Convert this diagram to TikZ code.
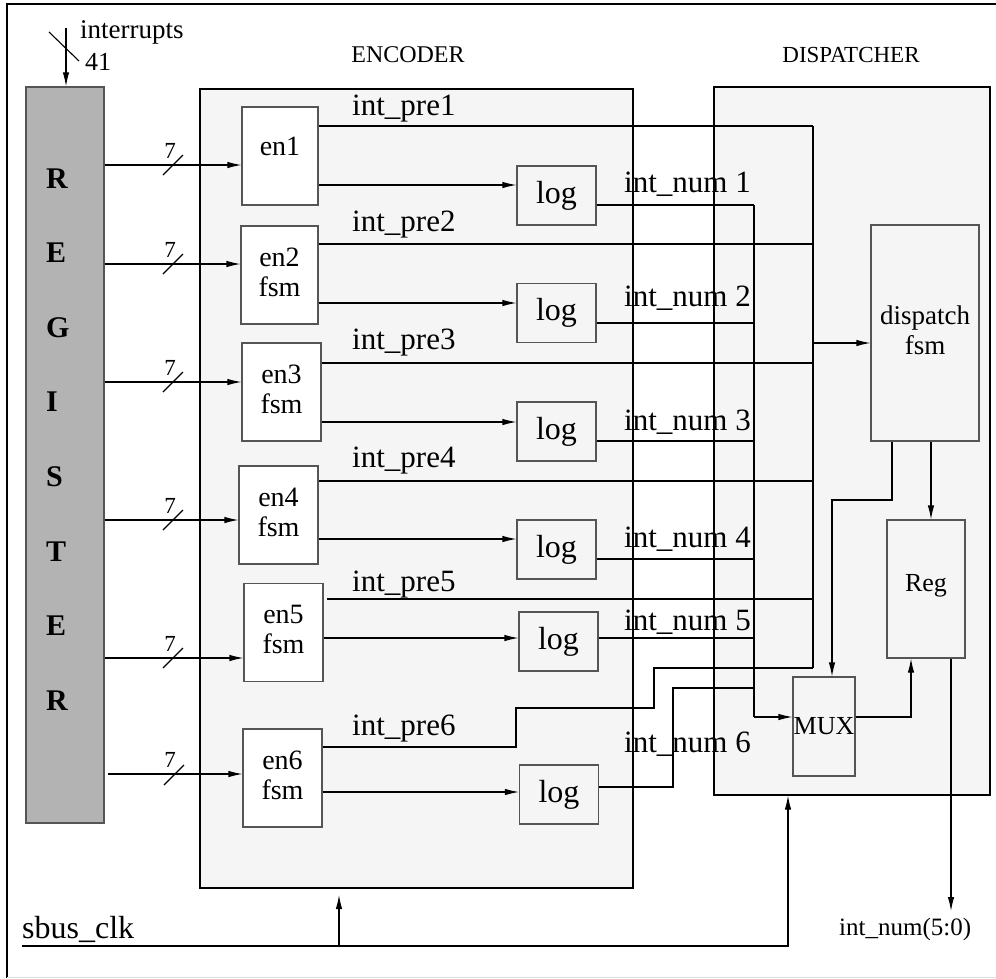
\documentclass[tikz,border=0pt]{standalone}
\usepackage{fontspec}
\setmainfont{Liberation Serif}
\usepackage{tikz}
\usetikzlibrary{arrows.meta,calc,positioning}
\definecolor{regshade}{RGB}{179,179,179}
\definecolor{unitfill}{RGB}{245,245,245}
\definecolor{boxedge}{RGB}{85,85,85}
\newcommand{\lifted}[2]{\raisebox{#1}{\begin{tabular}{@{}c@{}}#2\end{tabular}}}

\begin{document}
\begin{tikzpicture}[x=1pt, y=-1pt,
      sig/.style={line width=1.1pt},
      arr/.style={line width=1.1pt, -{Latex[length=14pt,width=6.5pt]}},
      unit/.style={draw=black, fill=unitfill, line width=1.1pt, inner sep=0pt},
      regbox/.style={draw=boxedge, fill=regshade, line width=1.3pt, minimum width=78pt, minimum height=736pt, inner sep=0pt},
      regletter/.style={anchor=base west, inner sep=0pt, font=\fontsize{30}{32}\selectfont\bfseries},
      enbox/.style={draw=boxedge, fill=white, line width=1.1pt, minimum height=98pt, inner sep=0pt, align=center, font=\fontsize{28}{30}\selectfont},
      logbox/.style={draw=boxedge, fill=unitfill, line width=1.1pt, minimum width=79pt, minimum height=59pt, inner sep=0pt, font=\fontsize{32}{34}\selectfont},
      dispbox/.style={draw=boxedge, fill=unitfill, line width=1.1pt, inner sep=0pt, align=center, font=\fontsize{27}{30}\selectfont},
      siglbl/.style={anchor=base west, inner sep=0pt, font=\fontsize{31}{33}\selectfont},
      buslbl/.style={anchor=base, inner sep=0pt, font=\fontsize{23}{25}\selectfont},
      title/.style={anchor=base, inner sep=0pt, font=\fontsize{24}{26}\selectfont}
    ]
      \useasboundingbox (0,0) rectangle (996,978);
      % outer frame
      \draw[line width=1.1pt] (7,978) -- (7,4) -- (996,4);
      \draw[black!12, line width=1pt] (7,977) -- (996,977);

      % containers
      \node[unit, minimum width=433pt, minimum height=799pt] (enc) at (416.5,488.5) {};
      \node[unit, minimum width=276pt, minimum height=708pt] (disp) at (852,441) {};
      \node[title] (enctitle) at (408,62) {ENCODER};
      \node[title, font=\fontsize{23}{25}\selectfont] (disptitle) at (851,62) {DISPATCHER};

      % register
      \node[regbox] (reg) at (65,455) {};
      \node[regletter] at (46,188) {R};
      \node[regletter] at (46,262) {E};
      \node[regletter] at (46,337) {G};
      \node[regletter] at (46,411) {I};
      \node[regletter] at (46,486) {S};
      \node[regletter] at (46,561) {T};
      \node[regletter] at (46,635) {E};
      \node[regletter] at (46,710) {R};

      % interrupts input
      \node[anchor=base west, inner sep=0pt, font=\fontsize{27}{29}\selectfont] (intlbl) at (80,38) {interrupts};
      \node[anchor=base west, inner sep=0pt, font=\fontsize{26}{28}\selectfont] (intwidth) at (85,70) {41};
      \coordinate (intin) at (66,28);
      \draw[arr] (intin) -- (reg.north -| intin);
      \draw[sig] (49,32) -- (79,61);

      % encoder blocks
      \node[enbox, minimum width=76pt] (en1) at (280,156) {\raisebox{19pt}{en1}};
      \node[enbox, minimum width=77pt] (en2) at (279.5,275) {\lifted{7pt}{en2\\fsm}};
      \node[enbox, minimum width=79pt] (en3) at (281.5,392) {\lifted{6pt}{en3\\fsm}};
      \node[enbox, minimum width=79pt] (en4) at (278.5,515) {\lifted{10pt}{en4\\fsm}};
      \node[enbox, minimum width=79pt] (en5) at (283.5,632.5) {\lifted{10pt}{en5\\fsm}};
      \node[enbox, minimum width=79pt] (en6) at (282.5,778) {\lifted{12pt}{en6\\fsm}};

      \node[logbox] (log1) at (556.5,195.5) {log};
      \node[logbox] (log2) at (556.5,313) {log};
      \node[logbox] (log3) at (556.5,431.5) {log};
      \node[logbox] (log4) at (556.5,549.5) {log};
      \node[logbox] (log5) at (558.5,641.5) {log};
      \node[logbox] (log6) at (559,794.5) {log};

      % register -> encoder buses
      \draw[arr] (reg.east |- 0,165) -- (en1.west |- 0,165);
      \draw[arr] (reg.east |- 0,264) -- (en2.west |- 0,264);
      \draw[arr] (reg.east |- 0,382) -- (en3.west |- 0,382);
      \draw[arr] (reg.east |- 0,520) -- (en4.west |- 0,520);
      \draw[arr] (reg.east |- 0,658) -- (en5.west |- 0,658);
      \draw[arr] (108,774) -- (en6.west |- 0,774);
      \draw[sig] (163,175) -- (183,155);   \node[buslbl] at (170,158) {7};
      \draw[sig] (163,274) -- (183,254);   \node[buslbl] at (170,257) {7};
      \draw[sig] (163,392) -- (183,372);   \node[buslbl] at (170,375) {7};
      \draw[sig] (163,530) -- (183,510);   \node[buslbl] at (170,513) {7};
      \draw[sig] (163,668) -- (183,648);   \node[buslbl] at (170,651) {7};
      \draw[sig] (164,785) -- (184,765);   \node[buslbl] at (170,767) {7};

      % encoder -> log
      \draw[arr] (en1.east |- 0,185) -- (log1.west |- 0,185);
      \draw[arr] (en2.east |- 0,303) -- (log2.west |- 0,303);
      \draw[arr] (en3.east |- 0,422) -- (log3.west |- 0,422);
      \draw[arr] (en4.east |- 0,539) -- (log4.west |- 0,539);
      \draw[arr] (en5.east |- 0,638) -- (log5.west |- 0,638);
      \draw[arr] (en6.east |- 0,792) -- (log6.west |- 0,792);

      % dispatcher blocks
      \node[dispbox, minimum width=108pt, minimum height=216pt] (fsm) at (925,333) {\lifted{-9pt}{dispatch\\fsm}};
      \node[dispbox, minimum width=78pt, minimum height=138pt, font=\fontsize{26}{28}\selectfont] (regd) at (926,589) {\raisebox{12pt}{Reg}};
      \node[dispbox, minimum width=62pt, minimum height=99pt, font=\fontsize{26}{28}\selectfont] (mux) at (824,726.5) {MUX};

      % int_pre lines
      \coordinate (prebus) at (813,343);
      \draw[sig] (en1.east |- 0,126) -- (prebus |- 0,126);
      \draw[sig] (en2.east |- 0,244) -- (prebus |- 0,244);
      \draw[sig] (en3.east |- 0,363) -- (prebus |- 0,363);
      \draw[sig] (en4.east |- 0,481) -- (prebus |- 0,481);
      \draw[sig] (327,599) -- (prebus |- 0,599);
      \draw[sig] (en6.east |- 0,747) -| (516,708) -| (654,668) -- (prebus |- 0,668);
      \draw[sig] (prebus |- 0,126) -- (prebus |- 0,668);
      \draw[arr] (prebus) -- (fsm.west |- prebus);
      \node[siglbl] at (352,115) {int\_pre1};
      \node[siglbl] at (352,231) {int\_pre2};
      \node[siglbl] at (352,349) {int\_pre3};
      \node[siglbl] at (352,467) {int\_pre4};
      \node[siglbl] at (352,591) {int\_pre5};
      \node[siglbl] at (352,735) {int\_pre6};

      % int_num lines
      \coordinate (numbus) at (754,717);
      \draw[sig] (log1.east |- 0,205) -- (numbus |- 0,205);
      \draw[sig] (log2.east |- 0,323) -- (numbus |- 0,323);
      \draw[sig] (log3.east |- 0,441) -- (numbus |- 0,441);
      \draw[sig] (log4.east |- 0,559) -- (numbus |- 0,559);
      \draw[sig] (log5.east |- 0,638) -- (numbus |- 0,638);
      \draw[sig] (log6.east |- 0,787) -| (673,688) -- (numbus |- 0,688);
      \draw[sig] (numbus |- 0,205) -- (numbus);
      \draw[arr] (numbus) -- (mux.west |- numbus);
      \node[siglbl] at (624,192) {int\_num 1};
      \node[siglbl] at (624,306) {int\_num 2};
      \node[siglbl] at (624,430) {int\_num 3};
      \node[siglbl] at (624,547) {int\_num 4};
      \node[siglbl] at (624,630) {int\_num 5};
      \node[siglbl] at (624,752) {int\_num 6};

      % dispatcher internals
      \draw[arr] (fsm.south -| 892,0) |- (832,500) -- (mux.north -| 832,0);
      \draw[arr] (fsm.south -| 931,0) -- (regd.north -| 931,0);
      \draw[arr] (mux.east |- 0,717) -| (regd.south -| 911,0);

      % output
      \node[anchor=base west, inner sep=0pt, font=\fontsize{25}{27}\selectfont] (outlbl) at (839,935) {int\_num(5:0)};
      \coordinate (outpin) at (951,911);
      \draw[arr] (regd.south -| outpin) -- (outpin);

      % clock
      \node[siglbl, font=\fontsize{32}{34}\selectfont] (clklbl) at (22,938) {sbus\_clk};
      \coordinate (clk) at (22,946);
      \coordinate (clkenc) at (339,895);
      \draw[arr] (clk) -| (disp.south -| 788,0);
      \draw[arr] (clkenc |- clk) -- (clkenc);
    \end{tikzpicture}
\end{document}
